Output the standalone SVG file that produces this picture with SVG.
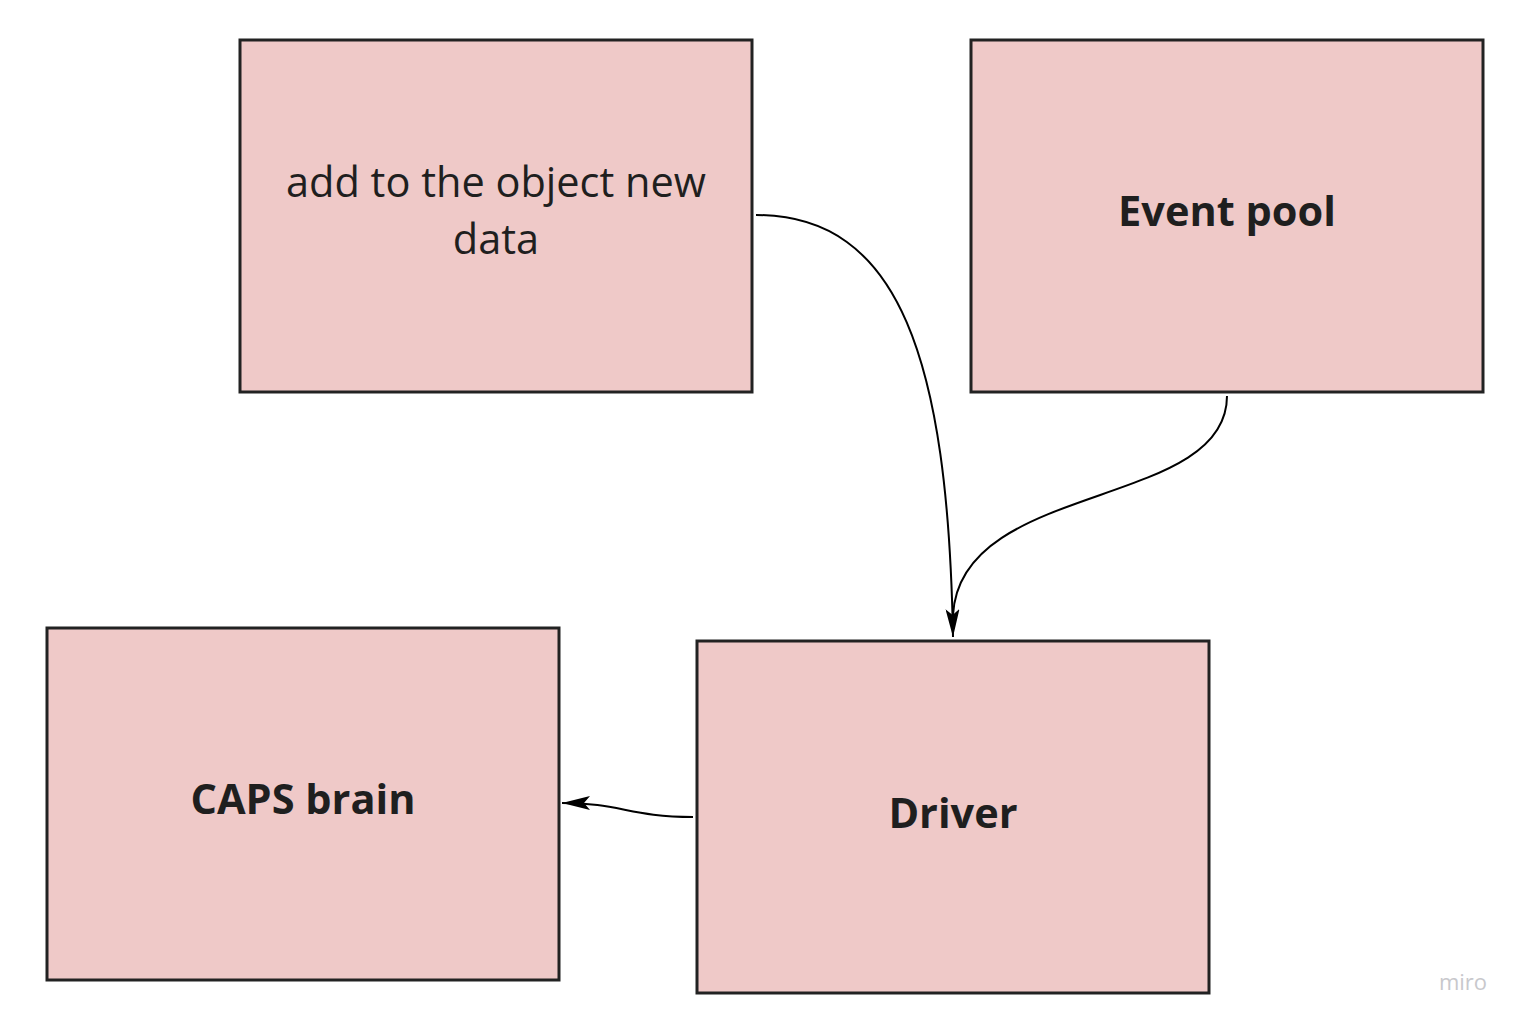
<svg xmlns="http://www.w3.org/2000/svg" width="1523" height="1025" viewBox="0 0 1523 1025">
<style>
.box{fill:#efc9c8;stroke:#222;stroke-width:3}
.t{font-family:"Open Sans","Liberation Sans",sans-serif;font-size:41.5px;fill:#1f1f1f;text-anchor:middle}
.b{font-weight:bold}
.c{fill:none;stroke:#000;stroke-width:2}
</style>
<defs>
<marker id="ah" markerWidth="30" markerHeight="14" refX="28" refY="7" orient="auto" markerUnits="userSpaceOnUse">
<path d="M0,0 L28,7 L0,14 L6,7 Z" fill="#000"/>
</marker>
</defs>
<rect width="1523" height="1025" fill="#fff"/>
<g id="node-add">
<rect class="box" x="240" y="40" width="512" height="352"/>
<text class="t" x="496" y="197">add to the object new</text>
<text class="t" x="496" y="254">data</text>
</g>
<g id="node-event">
<rect class="box" x="971" y="40" width="512" height="352"/>
<text class="t b" x="1227" y="226">Event pool</text>
</g>
<g id="node-caps">
<rect class="box" x="47" y="628" width="512" height="352"/>
<text class="t b" x="303" y="814">CAPS brain</text>
</g>
<g id="node-driver">
<rect class="box" x="697" y="641" width="512" height="352"/>
<text class="t b" x="953" y="828">Driver</text>
</g>
<g id="connectors">
<path class="c" d="M756,215 C900,215 948,360 953,637" marker-end="url(#ah)"/>
<path class="c" d="M1227,396 C1227,510 960,480 953,615"/>
<path class="c" d="M693,817 C630,817 620,803 562,803" marker-end="url(#ah)"/>
</g>
<text x="1463" y="990" font-family="Open Sans, Liberation Sans, sans-serif" font-size="22" fill="#c8c8cc" text-anchor="middle">miro</text>
</svg>
